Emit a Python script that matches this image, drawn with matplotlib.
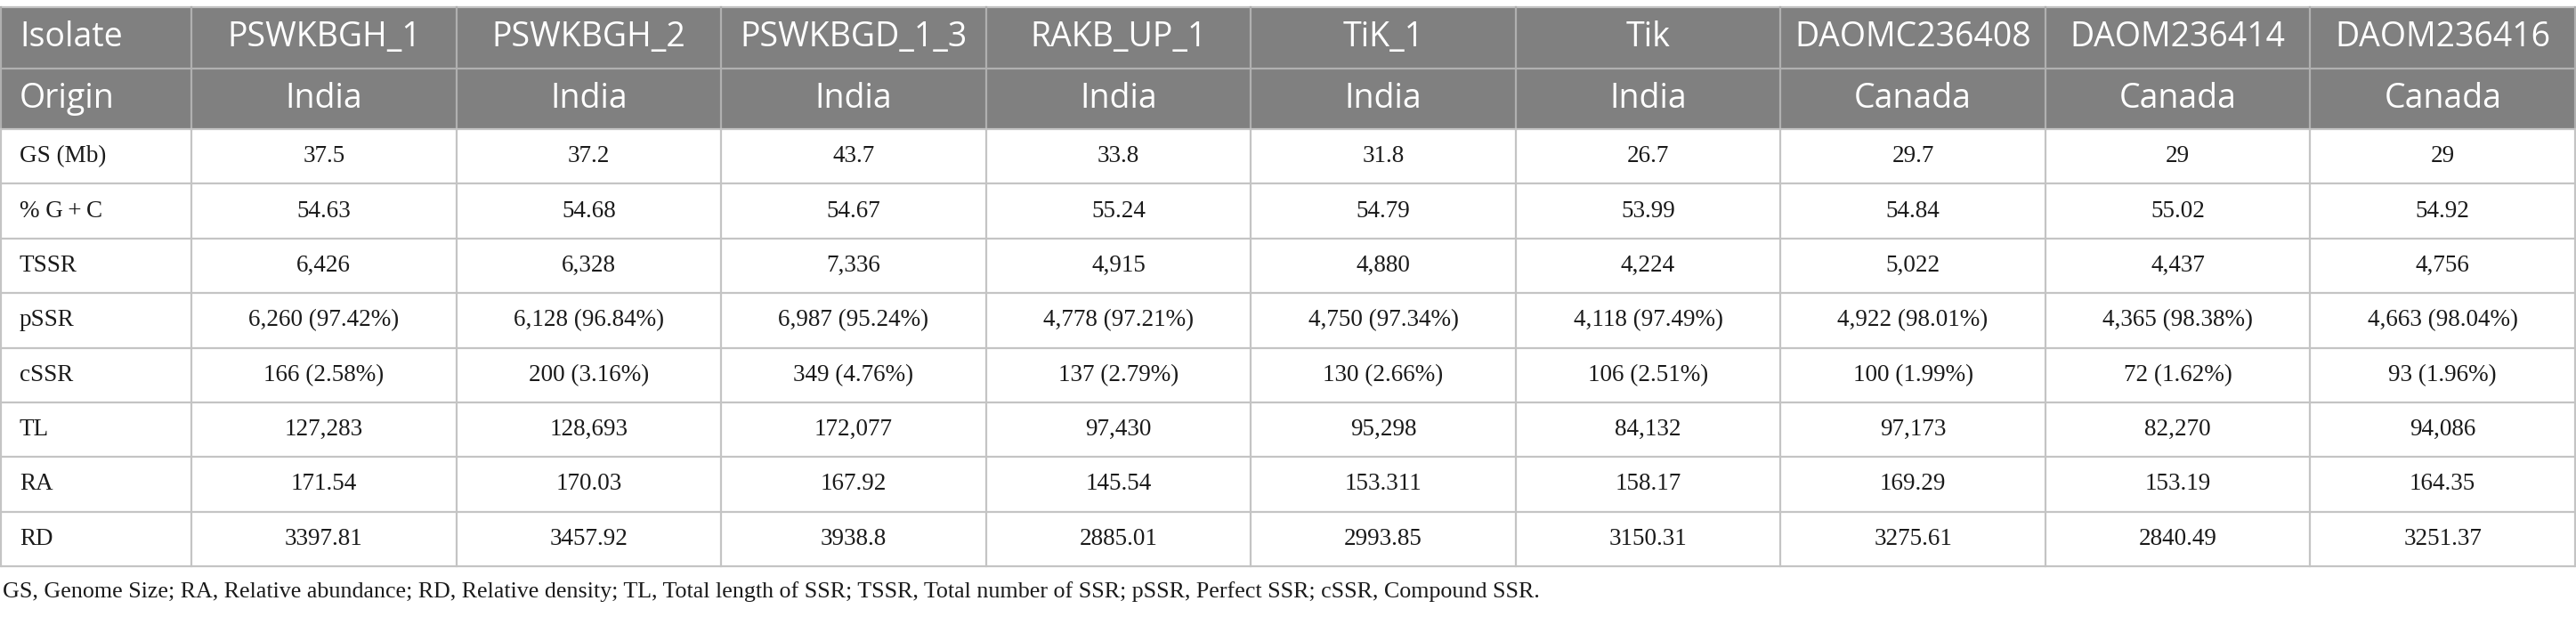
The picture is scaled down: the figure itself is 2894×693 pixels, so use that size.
import matplotlib
matplotlib.use("Agg")
import matplotlib.pyplot as plt
from matplotlib.patches import Rectangle

# ---- data ----
isolates = ["PSWKBGH_1", "PSWKBGH_2", "PSWKBGD_1_3", "RAKB_UP_1", "TiK_1", "Tik",
            "DAOMC236408", "DAOM236414", "DAOM236416"]
origins = ["India", "India", "India", "India", "India", "India", "Canada", "Canada", "Canada"]
row_labels = ["GS (Mb)", "% G\u2009+\u2009C", "TSSR", "pSSR", "cSSR", "TL", "RA", "RD"]
gs = ["37.5", "37.2", "43.7", "33.8", "31.8", "26.7", "29.7", "29", "29"]
gc = ["54.63", "54.68", "54.67", "55.24", "54.79", "53.99", "54.84", "55.02", "54.92"]
tssr = ["6,426", "6,328", "7,336", "4,915", "4,880", "4,224", "5,022", "4,437", "4,756"]
pssr = ["6,260 (97.42%)", "6,128 (96.84%)", "6,987 (95.24%)", "4,778 (97.21%)",
        "4,750 (97.34%)", "4,118 (97.49%)", "4,922 (98.01%)", "4,365 (98.38%)",
        "4,663 (98.04%)"]
cssr = ["166 (2.58%)", "200 (3.16%)", "349 (4.76%)", "137 (2.79%)", "130 (2.66%)",
        "106 (2.51%)", "100 (1.99%)", "72 (1.62%)", "93 (1.96%)"]
tl = ["127,283", "128,693", "172,077", "97,430", "95,298", "84,132", "97,173", "82,270",
      "94,086"]
ra = ["171.54", "170.03", "167.92", "145.54", "153.311", "158.17", "169.29", "153.19",
      "164.35"]
rd = ["3397.81", "3457.92", "3938.8", "2885.01", "2993.85", "3150.31", "3275.61",
      "2840.49", "3251.37"]
body = [gs, gc, tssr, pssr, cssr, tl, ra, rd]
footnote = ("GS, Genome Size; RA, Relative abundance; RD, Relative density; TL, Total length "
            "of SSR; TSSR, Total number of SSR; pSSR, Perfect SSR; cSSR, Compound SSR.")

# ---- layout (pixels) ----
W, H = 2894, 693
fig = plt.figure(figsize=(W / 100, H / 100), dpi=100)
ax = fig.add_axes([0, 0, 1, 1])
ax.set_xlim(0, W)
ax.set_ylim(H, 0)
ax.axis("off")

x_left, x_first, x_right = 1, 215, 2893
ncol = len(isolates)
cw = (x_right - x_first) / ncol
xs = [x_left, x_first] + [x_first + cw * (i + 1) for i in range(ncol)]
y_top = 8
hdr_h = 68.5
row_h = (636 - (y_top + 2 * hdr_h)) / len(row_labels)
ys = [y_top, y_top + hdr_h, y_top + 2 * hdr_h] + \
     [y_top + 2 * hdr_h + row_h * (i + 1) for i in range(len(row_labels))]

hdr_bg = "#808080"
ax.add_patch(Rectangle((x_left, ys[0]), x_right - x_left, ys[2] - ys[0],
                       facecolor=hdr_bg, edgecolor="none", zorder=1))

grid_c = "#c4c4c4"
hdr_line = "#b0b0b0"
lw = 1.6
# horizontal lines
for i, y in enumerate(ys):
    c = hdr_line if i == 1 else grid_c
    ax.plot([x_left, x_right], [y, y], color=c, lw=lw, zorder=3, solid_capstyle="butt")
# vertical lines
for x in xs:
    ax.plot([x, x], [ys[0], ys[2]], color=hdr_line, lw=lw, zorder=3)
    ax.plot([x, x], [ys[2], ys[-1]], color=grid_c, lw=lw, zorder=3)

hfont = dict(family="Open Sans", fontsize=27, color="white", va="center")
bfont = dict(family="Liberation Serif", fontsize=19.5, color="#1a1a1a", va="center")

# header rows
for r, (lab, vals) in enumerate([("Isolate", isolates), ("Origin", origins)]):
    yc = (ys[r] + ys[r + 1]) / 2
    ax.text(22, yc, lab, ha="left", **hfont, zorder=4)
    for j, v in enumerate(vals):
        ax.text((xs[j + 1] + xs[j + 2]) / 2, yc, v, ha="center", **hfont, zorder=4)

# body rows
for r, (lab, vals) in enumerate(zip(row_labels, body)):
    yc = (ys[r + 2] + ys[r + 3]) / 2
    ax.text(22, yc, lab, ha="left", **bfont, zorder=4)
    for j, v in enumerate(vals):
        ax.text((xs[j + 1] + xs[j + 2]) / 2, yc, v, ha="center", **bfont, zorder=4)

ax.text(3, 665, footnote, ha="left", va="center", family="Liberation Serif",
        fontsize=18.7, color="#1a1a1a")

fig.savefig("out.png", dpi=100)
